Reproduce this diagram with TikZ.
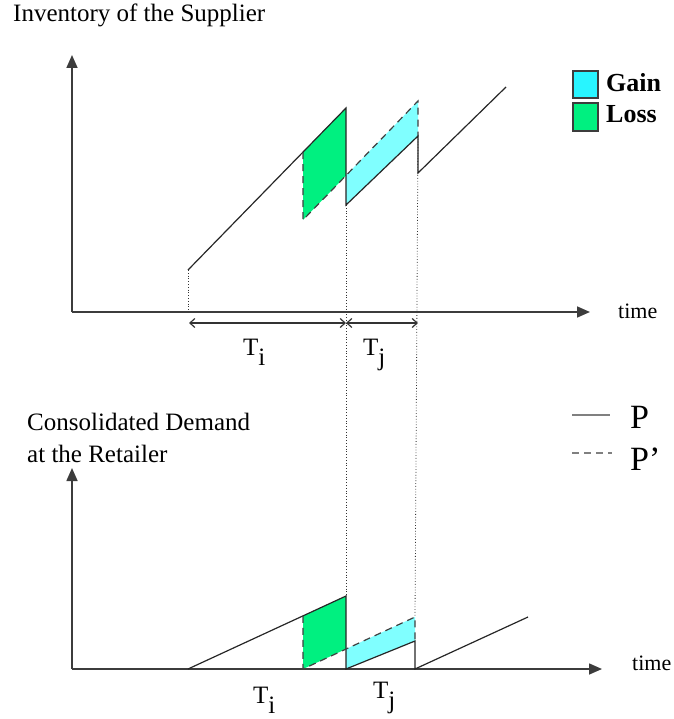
\documentclass[tikz,border=0pt]{standalone}
\usepackage{fontspec}
\setmainfont{Liberation Serif}
\usetikzlibrary{arrows.meta}
\definecolor{gainfill}{RGB}{128,255,255}
\definecolor{gainbox}{RGB}{40,245,255}
\definecolor{lossfill}{RGB}{0,240,128}
\definecolor{axisgray}{RGB}{60,60,60}
\begin{document}
\begin{tikzpicture}[x=1pt,y=-1pt,
  axis/.style={draw=axisgray, line width=1.6pt, -{Triangle[length=13pt,width=11pt]}},
  pline/.style={draw=black!85, line width=1.2pt},
  ppline/.style={draw=black!75, line width=1.2pt, dash pattern=on 7pt off 5pt},
  guide/.style={draw=black!80, line width=0.8pt, dotted},
  dimarrow/.style={draw=black!80, line width=1.2pt, {Straight Barb[length=5pt,width=9pt]}-{Straight Barb[length=5pt,width=9pt]}},
  txt/.style={inner sep=0pt, anchor=base west, font=\fontsize{25}{32}\selectfont},
  smalltxt/.style={inner sep=0pt, anchor=base west, font=\fontsize{22}{26}\selectfont},
  boldtxt/.style={inner sep=0pt, anchor=base west, font=\fontsize{26}{30}\selectfont\bfseries},
  bigtxt/.style={inner sep=0pt, anchor=base west, font=\fontsize{34}{40}\selectfont},
  legbox/.style={draw=axisgray, line width=1.5pt}]
\useasboundingbox (0,0) rectangle (673,719);

% ---------- top plot ----------
\fill[lossfill] (303,152.1) -- (346,108) -- (346,175.5) -- (303,220) -- cycle;
\fill[gainfill] (346,175.5) -- (418,101) -- (418,136) -- (346,205) -- cycle;
\draw[guide] (188,270) -- (188,312);
\draw[guide] (346,205) -- (346,596);
\draw[guide] (418,136) -- (415,617);
\draw[axis] (72,312) -- (72,55);
\draw[axis] (72,312) -- (590,312);
\draw[pline] (188,270) -- (346,108) -- (346,205) -- (418,136) -- (418,173) -- (506,87);
\draw[ppline] (303,152.1) -- (303,220) -- (418,101) -- (418,136);
\draw[dimarrow] (189,323) -- (346,323);
\draw[dimarrow] (346,323) -- (418,323);

\node[txt] (title1) at (13,22) {Inventory of the Supplier};
\node[smalltxt] (time1) at (618,318) {time};
\node[txt] (ti1) at (243,355) {T\raisebox{-10pt}{i}};
\node[txt] (tj1) at (363,355) {T\raisebox{-10pt}{j}};

% legend gain / loss
\draw[legbox, fill=gainbox] (573,71) rectangle (598,98);
\draw[legbox, fill=lossfill] (573,103) rectangle (598,131);
\node[boldtxt] (gain) at (606,92) {Gain};
\node[boldtxt] (loss) at (606,123) {Loss};

% ---------- bottom plot ----------
\fill[lossfill] (303,615.9) -- (346,596) -- (346,649) -- (303,669) -- cycle;
\fill[gainfill] (346,649) -- (415,617) -- (415,641) -- (346,669) -- cycle;
\draw[axis] (72,669) -- (72,468);
\draw[axis] (72,669) -- (602,669);
\draw[pline] (188,669) -- (346,596) -- (346,669) -- (415,641) -- (415,669) -- (528,617);
\draw[ppline] (303,615.9) -- (303,669) -- (415,617) -- (415,641);

\node[txt] (title2a) at (27,430) {Consolidated Demand};
\node[txt] (title2b) at (27,462) {at the Retailer};
\node[smalltxt] (time2) at (632,670) {time};
\node[txt] (ti2) at (253,703) {T\raisebox{-10pt}{i}};
\node[txt] (tj2) at (373,698) {T\raisebox{-10pt}{j}};

% legend P / P'
\draw[draw=gray, line width=2pt] (572,415) -- (610,415);
\draw[draw=gray, line width=2pt, dash pattern=on 7pt off 5pt] (572,453) -- (612,453);
\node[bigtxt] (plab) at (630,428) {P};
\node[bigtxt] (pplab) at (630,470) {P’};
\end{tikzpicture}
\end{document}
